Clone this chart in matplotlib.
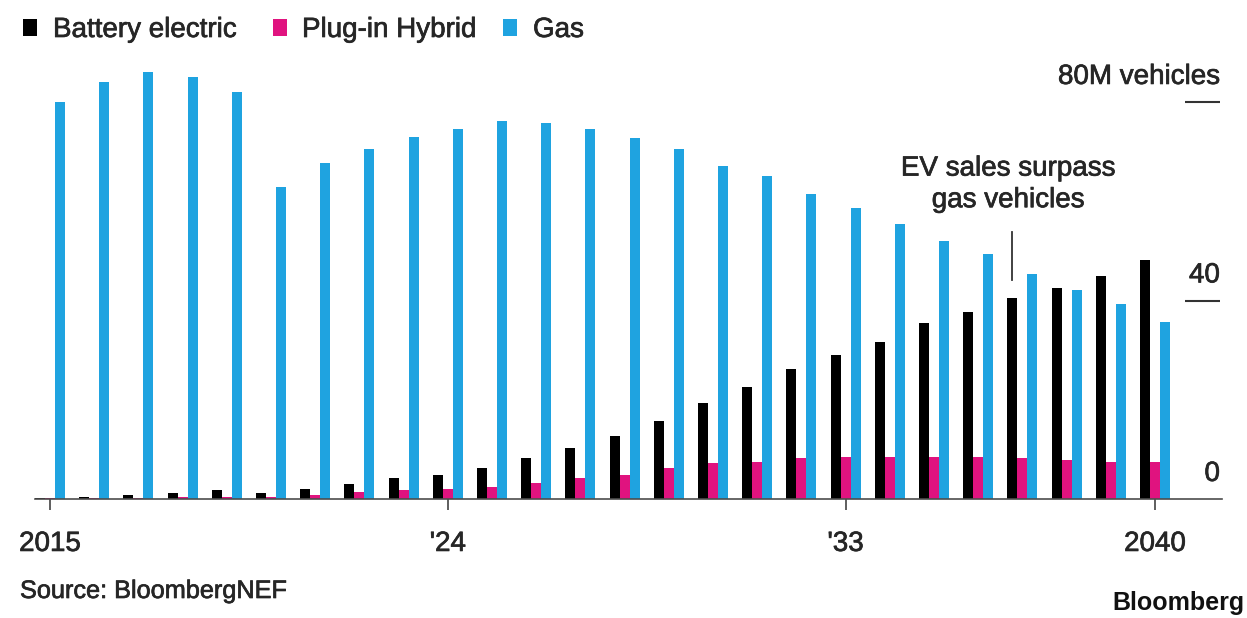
import matplotlib
matplotlib.use("Agg")
import matplotlib.pyplot as plt
from matplotlib.patches import Rectangle
import matplotlib.patheffects as pe

# Annual passenger vehicle sales, millions
years = list(range(2015, 2041))
battery_electric = [0.3, 0.4, 0.9, 1.3, 1.8, 1.3, 2.1, 3.0, 4.2, 4.8, 6.2, 8.2, 10.2,
                    12.6, 15.8, 19.3, 22.5, 26.1, 29.0, 31.7, 35.4, 37.7, 40.6, 42.6,
                    44.9, 48.2]
plug_in_hybrid = [0.2, 0.2, 0.3, 0.5, 0.5, 0.4, 0.8, 1.5, 1.9, 2.0, 2.5, 3.3, 4.2,
                  4.8, 6.2, 7.2, 7.4, 8.2, 8.5, 8.5, 8.5, 8.5, 8.2, 7.9, 7.4, 7.4]
gas = [79.9, 84.1, 86.1, 85.0, 82.0, 62.9, 67.8, 70.5, 72.9, 74.6, 76.2, 75.7, 74.6,
       72.8, 70.5, 67.2, 65.0, 61.4, 58.6, 55.4, 52.0, 49.3, 45.3, 42.1, 39.2, 35.7]

series_names = ["Battery electric", "Plug-in Hybrid", "Gas"]
tick_years = [2015, 2024, 2033, 2040]
tick_labels = ["2015", "'24", "'33", "2040"]
y_ticks = [0, 40, 80]
y_tick_labels = ["0", "40", "80M vehicles"]
crossover_year = 2037

BLACK = "#000000"
MAGENTA = "#e0137f"
BLUE = "#1fa3e0"
TEXT = "#262626"
FONT = "Liberation Sans"
FS = 20

plt.rcParams["font.family"] = FONT

# slightly heavier text strokes
heavy = [pe.withStroke(linewidth=0.5, foreground=TEXT)]

W, H = 1247, 618
fig = plt.figure(figsize=(W / 100, H / 100), dpi=100)

# axes placed in pixel terms: baseline at y=499, 2015 at x=50, 2040 at x=1155
px_year = 44.2
px_unit = 4.9625
ax_left, ax_right, base = 35, 1222, 499
ymax = 90
ax = fig.add_axes([ax_left / W, (H - base) / H, (ax_right - ax_left) / W,
                   ymax * px_unit / H])
ax.set_xlim(2015 - (50 - ax_left) / px_year, 2040 + (ax_right - 1155) / px_year)
ax.set_ylim(0, ymax)

bw = 0.225
ax.bar([y - bw for y in years], battery_electric, width=bw, color=BLACK, linewidth=0)
ax.bar(years, plug_in_hybrid, width=bw, color=MAGENTA, linewidth=0)
ax.bar([y + bw for y in years], gas, width=bw, color=BLUE, linewidth=0)

for side in ("left", "right", "top"):
    ax.spines[side].set_visible(False)
ax.spines["bottom"].set_color("#4d4d4d")
ax.spines["bottom"].set_linewidth(1.2)
ax.set_yticks([])
ax.set_xticks(tick_years)
ax.set_xticklabels(tick_labels, fontsize=FS, color=TEXT)
for t in ax.get_xticklabels():
    t.set_path_effects(heavy)
ax.tick_params(axis="x", length=8, width=1.1, color="#333333", pad=15)

# right-hand value scale: short rules with labels above them
ytr = ax.get_yaxis_transform()
for val, lab in zip(y_ticks, y_tick_labels):
    if val > 0:
        ax.plot([0.9688, 0.9983], [val, val], transform=ytr, color="#333333",
                lw=1.5, solid_capstyle="butt", clip_on=False)
    ax.annotate(lab, xy=(0.9983, val), xycoords=ytr, xytext=(0, 13),
                textcoords="offset points", ha="right", va="baseline",
                fontsize=FS, color=TEXT, annotation_clip=False,
                path_effects=heavy)

# crossover annotation
ci = years.index(crossover_year)
cx = crossover_year - bw
ax.plot([cx, cx], [battery_electric[ci] + 3.5, battery_electric[ci] + 13.2],
        color="#333333", lw=1.3, clip_on=False)
ax.text(cx - 0.1, battery_electric[ci] + 18.2, "EV sales surpass\ngas vehicles",
        ha="center", va="baseline", fontsize=FS, color=TEXT, linespacing=1.28,
        clip_on=False, path_effects=heavy)

# legend row
def fx(px):
    return px / W

def fy(py):
    return 1 - py / H

legend_items = [(23, 53, BLACK), (273, 302, MAGENTA), (503, 533, BLUE)]
for (sq_x, tx_x, col), name in zip(legend_items, series_names):
    fig.patches.append(Rectangle((fx(sq_x), fy(36)), 14 / W, 17 / H,
                                 transform=fig.transFigure, color=col, lw=0))
    fig.text(fx(tx_x), fy(37), name, ha="left", va="baseline", fontsize=FS,
             color=TEXT, path_effects=heavy)

fig.text(fx(20), fy(598), "Source: BloombergNEF", ha="left", va="baseline",
         fontsize=18.2, color=TEXT, path_effects=heavy)
fig.text(fx(1245), fy(610), "Bloomberg", ha="right", va="baseline",
         fontsize=18, fontweight="bold", color="#111111")

fig.savefig("out.png", dpi=100, facecolor="white")
